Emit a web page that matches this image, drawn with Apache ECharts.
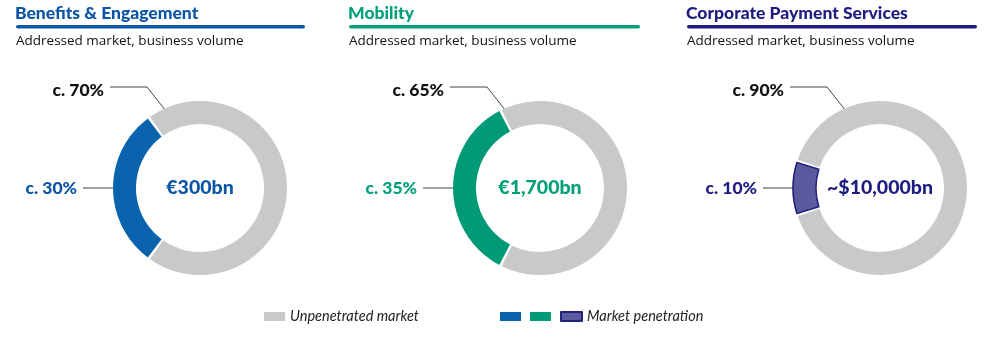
<!DOCTYPE html>
<html>
<head>
<meta charset="utf-8">
<script src="https://cdn.jsdelivr.net/npm/echarts@6/dist/echarts.min.js"></script>
<style>
  html, body { margin: 0; padding: 0; background: #fff; }
  #chart { width: 1004px; height: 340px; }
</style>
</head>
<body>
<div id="chart"></div>
<script>
// Business lines and their addressed markets
const segments = ['Benefits & Engagement', 'Mobility', 'Corporate Payment Services'];
const subtitle = 'Addressed market, business volume';
const marketSizes = ['€300bn', '€1,700bn', '~$10,000bn'];
const penetration = [30, 35, 10];      // market penetration, %
const unpenetrated = [70, 65, 90];     // unpenetrated market, %
const legendNames = ['Unpenetrated market', 'Market penetration'];

// Look of each business line
const accent = ['#0b55a6', '#00a07a', '#1d1c80'];
const sliceFill = ['#0a64ad', '#009a77', '#5a5a9e'];
const sliceBorder = [null, null, '#23237a'];
const grey = '#c8c9ca';

// Layout
const centers = [[200, 188], [540, 188], [880, 188]];
const R_IN = 64, R_OUT = 87;
const titleLeft = [16, 349, 687];
const ruleRight = [305, 640, 977];

const penNames = segments.map(s => s + ' – penetration');

const chart = echarts.init(document.getElementById('chart'), null, { renderer: 'canvas' });

function labelLayoutFor(i) {
  const [cx, cy] = centers[i];
  return function (p) {
    if (p.dataIndex === 0) {
      // penetration label, to the left of the ring
      const ax = cx - R_OUT, ay = cy;
      return {
        x: cx - 123, y: ay, align: 'right', verticalAlign: 'middle',
        labelLinePoints: [[cx - 117, ay], [cx - 100, ay], [ax, ay]]
      };
    }
    // unpenetrated label, above-left with an elbow leader
    const ang = 114 * Math.PI / 180;
    const ax = cx + (R_OUT - 2) * Math.cos(ang), ay = cy - (R_OUT - 2) * Math.sin(ang);
    return {
      x: cx - 96, y: cy - 98, align: 'right', verticalAlign: 'middle',
      labelLinePoints: [[cx - 90, cy - 101], [cx - 53, cy - 101], [ax, ay]]
    };
  };
}

const series = segments.map((seg, i) => ({
  type: 'pie',
  name: seg,
  center: centers[i],
  radius: [R_IN, R_OUT],
  startAngle: 180 + penetration[i] * 3.6 / 2,
  clockwise: true,
  padAngle: 1.8,
  avoidLabelOverlap: false,
  silent: true,
  label: {
    show: true,
    position: 'outside',
    fontFamily: 'Lato',
    fontWeight: 900,
    fontSize: 17.5,
    formatter: p => 'c. ' + p.value + '%'
  },
  labelLine: {
    show: true,
    length: 10,
    length2: 10,
    lineStyle: { color: '#444', width: 1 }
  },
  labelLayout: labelLayoutFor(i),
  data: [
    {
      name: penNames[i],
      value: penetration[i],
      itemStyle: {
        color: sliceFill[i],
        borderColor: sliceBorder[i] || sliceFill[i],
        borderWidth: sliceBorder[i] ? 1.5 : 0
      },
      label: { color: accent[i] }
    },
    {
      name: legendNames[0],
      value: unpenetrated[i],
      itemStyle: { color: grey },
      label: { color: '#111' }
    }
  ]
}));

const titles = [];
segments.forEach((seg, i) => {
  titles.push({
    text: seg,
    left: titleLeft[i] - 1,
    top: 4,
    textStyle: { fontFamily: 'Lato', fontWeight: 900, fontSize: 17.5, color: accent[i] },
    padding: 0
  });
  titles.push({
    text: subtitle,
    left: titleLeft[i],
    top: 34,
    textStyle: { fontFamily: 'Open Sans', fontWeight: 'normal', fontSize: 13.5, color: '#111' },
    padding: 0
  });
  titles.push({
    text: marketSizes[i],
    left: centers[i][0],
    top: centers[i][1],
    textAlign: 'center',
    textVerticalAlign: 'middle',
    textStyle: { fontFamily: 'Lato', fontWeight: 900, fontSize: 19.5, color: accent[i] },
    padding: 0
  });
});

const rules = segments.map((seg, i) => ({
  type: 'rect',
  left: titleLeft[i],
  top: 25,
  shape: { width: ruleRight[i] - titleLeft[i], height: 3.5, r: 2 },
  style: { fill: accent[i] },
  silent: true
}));

chart.setOption({
  backgroundColor: '#fff',
  animation: false,
  title: titles,
  graphic: rules,
  legend: [
    {
      data: [legendNames[0]],
      left: 259,
      top: 304,
      icon: 'rect',
      itemWidth: 21,
      itemHeight: 9,
      itemGap: 9,
      selectedMode: false,
      textStyle: { fontFamily: 'Lato', fontStyle: 'italic', fontSize: 14.5, color: '#222' }
    },
    {
      data: penNames,
      left: 495,
      top: 304,
      icon: 'rect',
      itemWidth: 21,
      itemHeight: 9,
      itemGap: 9,
      selectedMode: false,
      formatter: name => (name === penNames[penNames.length - 1] ? legendNames[1] : ''),
      textStyle: { fontFamily: 'Lato', fontStyle: 'italic', fontSize: 14.5, color: '#222' }
    }
  ],
  series: series
});
</script>
</body>
</html>
